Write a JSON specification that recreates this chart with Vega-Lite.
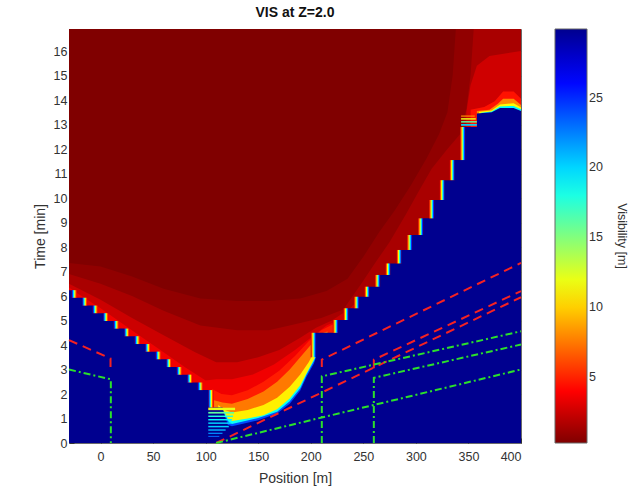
{
"$schema": "https://vega.github.io/schema/vega-lite/v6.json",
"width": 452, "height": 414,
"autosize": {"type": "none"},
"padding": {"left": 69, "top": 29, "right": 109, "bottom": 54},
"title": {"text": "VIS at Z=2.0", "fontSize": 14, "fontWeight": "bold", "color": "#111111", "anchor": "middle", "offset": 9},
"datasets": {
"cells": [
{"k":"bg","x":-30,"x2":400,"t":0,"t2":16.9,"v":0.3},
{"k":"st","x":102.5,"x2":128,"t":1.34,"t2":1.44,"v":12},
{"k":"st","x":102.5,"x2":127,"t":1.2,"t2":1.27,"v":16},
{"k":"st","x":102.5,"x2":126,"t":1.06,"t2":1.12,"v":18},
{"k":"st","x":102.5,"x2":125,"t":0.92,"t2":0.98,"v":19},
{"k":"st","x":102.5,"x2":124,"t":0.78,"t2":0.84,"v":20},
{"k":"st","x":102.5,"x2":122,"t":0.64,"t2":0.7,"v":20},
{"k":"st","x":102.5,"x2":119,"t":0.5,"t2":0.56,"v":21},
{"k":"st","x":102.5,"x2":116,"t":0.37,"t2":0.42,"v":22},
{"k":"st","x":102.5,"x2":113,"t":0.25,"t2":0.29,"v":23},
{"k":"st","x":343,"x2":358,"t":12.95,"t2":13.02,"v":20},
{"k":"st","x":343,"x2":358,"t":13.08,"t2":13.14,"v":16},
{"k":"st","x":343,"x2":357,"t":13.2,"t2":13.26,"v":12},
{"k":"st","x":343,"x2":356,"t":13.32,"t2":13.37,"v":8}
],
"strips": [
{"s":"L","x":-27.5,"x2":-22.5,"t":5.93,"t2":6.24},
{"s":"L","x":-17.5,"x2":-12.5,"t":5.61,"t2":5.93},
{"s":"L","x":-7.5,"x2":-2.5,"t":5.30,"t2":5.61},
{"s":"L","x":2.5,"x2":7.5,"t":4.98,"t2":5.30},
{"s":"L","x":12.5,"x2":17.5,"t":4.67,"t2":4.98},
{"s":"L","x":22.5,"x2":27.5,"t":4.36,"t2":4.67},
{"s":"L","x":32.5,"x2":37.5,"t":4.04,"t2":4.36},
{"s":"L","x":42.5,"x2":47.5,"t":3.73,"t2":4.04},
{"s":"L","x":52.5,"x2":57.5,"t":3.42,"t2":3.73},
{"s":"L","x":62.5,"x2":67.5,"t":3.10,"t2":3.42},
{"s":"L","x":72.5,"x2":77.5,"t":2.79,"t2":3.10},
{"s":"L","x":82.5,"x2":87.5,"t":2.47,"t2":2.79},
{"s":"L","x":92.5,"x2":97.5,"t":2.16,"t2":2.47},
{"s":"L","x":102.5,"x2":107.5,"t":1.45,"t2":2.16},
{"s":"R","x":200,"x2":205,"t":3.5,"t2":4.5},
{"s":"R","x":221,"x2":226,"t":4.5,"t2":5.02},
{"s":"R","x":231,"x2":236,"t":5.02,"t2":5.5},
{"s":"R","x":241,"x2":246,"t":5.5,"t2":5.97},
{"s":"R","x":251,"x2":256,"t":5.97,"t2":6.38},
{"s":"R","x":261,"x2":266,"t":6.38,"t2":6.86},
{"s":"R","x":271,"x2":276,"t":6.86,"t2":7.33},
{"s":"R","x":281.5,"x2":286.5,"t":7.33,"t2":7.88},
{"s":"R","x":291.5,"x2":296.5,"t":7.88,"t2":8.49},
{"s":"R","x":302,"x2":307,"t":8.49,"t2":9.17},
{"s":"R","x":312.5,"x2":317.5,"t":9.17,"t2":9.92},
{"s":"R","x":322.5,"x2":327.5,"t":9.92,"t2":10.73},
{"s":"R","x":332,"x2":337,"t":10.73,"t2":11.55},
{"s":"R","x":342,"x2":347,"t":11.55,"t2":12.9}
],
"bands": [
{"b":"R1","v":0.8,"x":-30,"t":7.35},{"b":"R1","v":0.8,"x":0,"t":7.2},{"b":"R1","v":0.8,"x":30,"t":6.8},{"b":"R1","v":0.8,"x":60,"t":6.3},{"b":"R1","v":0.8,"x":95,"t":5.9},{"b":"R1","v":0.8,"x":130,"t":5.8},{"b":"R1","v":0.8,"x":160,"t":5.8},{"b":"R1","v":0.8,"x":190,"t":5.9},{"b":"R1","v":0.8,"x":215,"t":6.2},{"b":"R1","v":0.8,"x":235,"t":6.7},{"b":"R1","v":0.8,"x":250,"t":7.6},{"b":"R1","v":0.8,"x":265,"t":8.6},{"b":"R1","v":0.8,"x":280,"t":9.5},{"b":"R1","v":0.8,"x":295,"t":10.5},{"b":"R1","v":0.8,"x":310,"t":11.6},{"b":"R1","v":0.8,"x":322,"t":12.6},{"b":"R1","v":0.8,"x":330,"t":13.5},{"b":"R1","v":0.8,"x":335,"t":15.0},{"b":"R1","v":0.8,"x":338,"t":16.9},{"b":"R1","v":0.8,"x":400,"t":16.9},
{"b":"R2","v":1.5,"x":-30,"t":6.9},{"b":"R2","v":1.5,"x":0,"t":6.5},{"b":"R2","v":1.5,"x":30,"t":6.0},{"b":"R2","v":1.5,"x":60,"t":5.4},{"b":"R2","v":1.5,"x":95,"t":4.8},{"b":"R2","v":1.5,"x":130,"t":4.6},{"b":"R2","v":1.5,"x":160,"t":4.6},{"b":"R2","v":1.5,"x":190,"t":4.9},{"b":"R2","v":1.5,"x":210,"t":5.1},{"b":"R2","v":1.5,"x":231,"t":5.45},{"b":"R2","v":1.5,"x":248,"t":6.5},{"b":"R2","v":1.5,"x":262,"t":7.4},{"b":"R2","v":1.5,"x":275,"t":8.2},{"b":"R2","v":1.5,"x":290,"t":9.3},{"b":"R2","v":1.5,"x":303,"t":10.3},{"b":"R2","v":1.5,"x":315,"t":11.2},{"b":"R2","v":1.5,"x":330,"t":12.0},{"b":"R2","v":1.5,"x":342,"t":12.6},{"b":"R2","v":1.5,"x":348,"t":13.6},{"b":"R2","v":1.5,"x":352,"t":15.0},{"b":"R2","v":1.5,"x":355,"t":16.9},{"b":"R2","v":1.5,"x":400,"t":16.9},
{"b":"R3","v":2.5,"x":-30,"t":6.5},{"b":"R3","v":2.5,"x":0,"t":5.85},{"b":"R3","v":2.5,"x":30,"t":5.1},{"b":"R3","v":2.5,"x":60,"t":4.4},{"b":"R3","v":2.5,"x":90,"t":3.7},{"b":"R3","v":2.5,"x":110,"t":3.3},{"b":"R3","v":2.5,"x":130,"t":3.3},{"b":"R3","v":2.5,"x":150,"t":3.5},{"b":"R3","v":2.5,"x":170,"t":3.8},{"b":"R3","v":2.5,"x":190,"t":4.3},{"b":"R3","v":2.5,"x":205,"t":4.7},{"b":"R3","v":2.5,"x":220,"t":5.0},{"b":"R3","v":2.5,"x":236,"t":5.45},{"b":"R3","v":2.5,"x":246,"t":5.85},{"b":"R3","v":2.5,"x":256,"t":5.95},
{"b":"R3b","v":2.6,"x":348,"t":13.5},{"b":"R3b","v":2.6,"x":352,"t":14.6},{"b":"R3b","v":2.6,"x":358,"t":15.4},{"b":"R3b","v":2.6,"x":370,"t":15.8},{"b":"R3b","v":2.6,"x":385,"t":15.9},{"b":"R3b","v":2.6,"x":400,"t":16.0},
{"b":"R4","v":3.6,"x":-30,"t":6.35},{"b":"R4","v":3.6,"x":-20,"t":6.05},{"b":"R4","v":3.6,"x":0,"t":5.5},{"b":"R4","v":3.6,"x":20,"t":4.9},{"b":"R4","v":3.6,"x":40,"t":4.3},{"b":"R4","v":3.6,"x":60,"t":3.7},{"b":"R4","v":3.6,"x":80,"t":3.1},{"b":"R4","v":3.6,"x":100,"t":2.55},{"b":"R4","v":3.6,"x":110,"t":2.6},{"b":"R4","v":3.6,"x":125,"t":2.6},{"b":"R4","v":3.6,"x":145,"t":2.8},{"b":"R4","v":3.6,"x":165,"t":3.2},{"b":"R4","v":3.6,"x":185,"t":3.8},{"b":"R4","v":3.6,"x":200,"t":4.3},{"b":"R4","v":3.6,"x":215,"t":4.8},{"b":"R4","v":3.6,"x":226,"t":5.0},
{"b":"VR","v":4.8,"x":106,"t":2.2},{"b":"VR","v":4.8,"x":115,"t":2.0},{"b":"VR","v":4.8,"x":125,"t":1.95},{"b":"VR","v":4.8,"x":140,"t":2.15},{"b":"VR","v":4.8,"x":155,"t":2.5},{"b":"VR","v":4.8,"x":170,"t":2.95},{"b":"VR","v":4.8,"x":185,"t":3.55},{"b":"VR","v":4.8,"x":198,"t":4.15},{"b":"VR","v":4.8,"x":210,"t":4.6},{"b":"VR","v":4.8,"x":226,"t":4.95},
{"b":"O","v":7.5,"x":108,"t":1.75},{"b":"O","v":7.5,"x":116,"t":1.65},{"b":"O","v":7.5,"x":125,"t":1.6},{"b":"O","v":7.5,"x":140,"t":1.8},{"b":"O","v":7.5,"x":155,"t":2.1},{"b":"O","v":7.5,"x":168,"t":2.5},{"b":"O","v":7.5,"x":180,"t":3.0},{"b":"O","v":7.5,"x":192,"t":3.6},{"b":"O","v":7.5,"x":203,"t":4.15},{"b":"O","v":7.5,"x":212,"t":4.5},{"b":"O","v":7.5,"x":216,"t":4.55},
{"b":"Y","v":11,"x":112,"t":1.55},{"b":"Y","v":11,"x":118,"t":1.35},{"b":"Y","v":11,"x":125,"t":1.25},{"b":"Y","v":11,"x":140,"t":1.35},{"b":"Y","v":11,"x":155,"t":1.55},{"b":"Y","v":11,"x":168,"t":1.85},{"b":"Y","v":11,"x":180,"t":2.3},{"b":"Y","v":11,"x":190,"t":2.8},{"b":"Y","v":11,"x":198,"t":3.3},{"b":"Y","v":11,"x":205,"t":3.85},{"b":"Y","v":11,"x":210,"t":4.4},{"b":"Y","v":11,"x":212,"t":4.5},
{"b":"C","v":18.5,"x":117,"t":1.35},{"b":"C","v":18.5,"x":121,"t":1.0},{"b":"C","v":18.5,"x":125,"t":0.9},{"b":"C","v":18.5,"x":140,"t":1.0},{"b":"C","v":18.5,"x":155,"t":1.13},{"b":"C","v":18.5,"x":168,"t":1.38},{"b":"C","v":18.5,"x":180,"t":1.82},{"b":"C","v":18.5,"x":190,"t":2.36},{"b":"C","v":18.5,"x":197,"t":2.93},{"b":"C","v":18.5,"x":204,"t":3.5},{"b":"C","v":18.5,"x":206,"t":3.7},
{"b":"LB","v":24,"x":119,"t":1.1},{"b":"LB","v":24,"x":122,"t":0.85},{"b":"LB","v":24,"x":125,"t":0.78},{"b":"LB","v":24,"x":150,"t":1.02},{"b":"LB","v":24,"x":168,"t":1.28},{"b":"LB","v":24,"x":180,"t":1.7},{"b":"LB","v":24,"x":190,"t":2.24},{"b":"LB","v":24,"x":196,"t":2.8},{"b":"LB","v":24,"x":203,"t":3.35},{"b":"LB","v":24,"x":205.5,"t":3.6},
{"b":"TRr","v":4.5,"x":352,"t":13.6},{"b":"TRr","v":4.5,"x":365,"t":13.72},{"b":"TRr","v":4.5,"x":375,"t":13.95},{"b":"TRr","v":4.5,"x":383,"t":14.35},{"b":"TRr","v":4.5,"x":393,"t":14.35},{"b":"TRr","v":4.5,"x":400,"t":14.05},
{"b":"TRo","v":8,"x":358,"t":13.55},{"b":"TRo","v":8,"x":370,"t":13.6},{"b":"TRo","v":8,"x":378,"t":13.85},{"b":"TRo","v":8,"x":383,"t":14.05},{"b":"TRo","v":8,"x":393,"t":14.05},{"b":"TRo","v":8,"x":400,"t":13.8},
{"b":"TRy","v":11.5,"x":360,"t":13.52},{"b":"TRy","v":11.5,"x":372,"t":13.57},{"b":"TRy","v":11.5,"x":380,"t":13.82},{"b":"TRy","v":11.5,"x":393,"t":13.87},{"b":"TRy","v":11.5,"x":400,"t":13.7},
{"b":"TRc","v":19,"x":362,"t":13.48},{"b":"TRc","v":19,"x":372,"t":13.53},{"b":"TRc","v":19,"x":380,"t":13.74},{"b":"TRc","v":19,"x":393,"t":13.76},{"b":"TRc","v":19,"x":400,"t":13.62},
{"b":"blue","v":29.9,"x":-30,"t":6.24},{"b":"blue","v":29.9,"x":-27.5,"t":6.24},{"b":"blue","v":29.9,"x":-27.48,"t":5.93},{"b":"blue","v":29.9,"x":-17.5,"t":5.93},{"b":"blue","v":29.9,"x":-17.48,"t":5.61},{"b":"blue","v":29.9,"x":-7.5,"t":5.61},{"b":"blue","v":29.9,"x":-7.48,"t":5.30},{"b":"blue","v":29.9,"x":2.5,"t":5.30},{"b":"blue","v":29.9,"x":2.52,"t":4.98},{"b":"blue","v":29.9,"x":12.5,"t":4.98},{"b":"blue","v":29.9,"x":12.52,"t":4.67},{"b":"blue","v":29.9,"x":22.5,"t":4.67},{"b":"blue","v":29.9,"x":22.52,"t":4.36},{"b":"blue","v":29.9,"x":32.5,"t":4.36},{"b":"blue","v":29.9,"x":32.52,"t":4.04},{"b":"blue","v":29.9,"x":42.5,"t":4.04},{"b":"blue","v":29.9,"x":42.52,"t":3.73},{"b":"blue","v":29.9,"x":52.5,"t":3.73},{"b":"blue","v":29.9,"x":52.52,"t":3.42},{"b":"blue","v":29.9,"x":62.5,"t":3.42},{"b":"blue","v":29.9,"x":62.52,"t":3.10},{"b":"blue","v":29.9,"x":72.5,"t":3.10},{"b":"blue","v":29.9,"x":72.52,"t":2.79},{"b":"blue","v":29.9,"x":82.5,"t":2.79},{"b":"blue","v":29.9,"x":82.52,"t":2.47},{"b":"blue","v":29.9,"x":92.5,"t":2.47},{"b":"blue","v":29.9,"x":92.52,"t":2.16},{"b":"blue","v":29.9,"x":102.5,"t":2.16},{"b":"blue","v":29.9,"x":102.52,"t":1.45},{"b":"blue","v":29.9,"x":116,"t":1.45},{"b":"blue","v":29.9,"x":121,"t":0.75},{"b":"blue","v":29.9,"x":125,"t":0.68},{"b":"blue","v":29.9,"x":150,"t":0.93},{"b":"blue","v":29.9,"x":168,"t":1.2},{"b":"blue","v":29.9,"x":180,"t":1.6},{"b":"blue","v":29.9,"x":190,"t":2.14},{"b":"blue","v":29.9,"x":196,"t":2.7},{"b":"blue","v":29.9,"x":203,"t":3.25},{"b":"blue","v":29.9,"x":205,"t":3.5},{"b":"blue","v":29.9,"x":205.02,"t":4.5},{"b":"blue","v":29.9,"x":226,"t":4.5},{"b":"blue","v":29.9,"x":226.02,"t":5.02},{"b":"blue","v":29.9,"x":236,"t":5.02},{"b":"blue","v":29.9,"x":236.02,"t":5.5},{"b":"blue","v":29.9,"x":246,"t":5.5},{"b":"blue","v":29.9,"x":246.02,"t":5.97},{"b":"blue","v":29.9,"x":256,"t":5.97},{"b":"blue","v":29.9,"x":256.02,"t":6.38},{"b":"blue","v":29.9,"x":266,"t":6.38},{"b":"blue","v":29.9,"x":266.02,"t":6.86},{"b":"blue","v":29.9,"x":276,"t":6.86},{"b":"blue","v":29.9,"x":276.02,"t":7.33},{"b":"blue","v":29.9,"x":286.5,"t":7.33},{"b":"blue","v":29.9,"x":286.52,"t":7.88},{"b":"blue","v":29.9,"x":296.5,"t":7.88},{"b":"blue","v":29.9,"x":296.52,"t":8.49},{"b":"blue","v":29.9,"x":307,"t":8.49},{"b":"blue","v":29.9,"x":307.02,"t":9.17},{"b":"blue","v":29.9,"x":317.5,"t":9.17},{"b":"blue","v":29.9,"x":317.52,"t":9.92},{"b":"blue","v":29.9,"x":327.5,"t":9.92},{"b":"blue","v":29.9,"x":327.52,"t":10.73},{"b":"blue","v":29.9,"x":337,"t":10.73},{"b":"blue","v":29.9,"x":337.02,"t":11.55},{"b":"blue","v":29.9,"x":347,"t":11.55},{"b":"blue","v":29.9,"x":347.02,"t":12.9},{"b":"blue","v":29.9,"x":358,"t":12.9},{"b":"blue","v":29.9,"x":358.02,"t":13.45},{"b":"blue","v":29.9,"x":372,"t":13.5},{"b":"blue","v":29.9,"x":380,"t":13.68},{"b":"blue","v":29.9,"x":393,"t":13.68},{"b":"blue","v":29.9,"x":400,"t":13.55}
],
"lines": [
{"id":"Ra","c":"r","i":1,"x":-30,"t":4.2},{"id":"Ra","c":"r","i":2,"x":9.5,"t":3.45},{"id":"Ra","c":"r","i":3,"x":9.5,"t":3.1},
{"id":"Rb","c":"r","i":1,"x":110,"t":0},{"id":"Rb","c":"r","i":2,"x":400,"t":5.95},
{"id":"Rc","c":"r","i":1,"x":210.5,"t":3.1},{"id":"Rc","c":"r","i":2,"x":210.5,"t":3.4},{"id":"Rc","c":"r","i":3,"x":400,"t":7.35},
{"id":"Rd","c":"r","i":1,"x":260,"t":3.05},{"id":"Rd","c":"r","i":2,"x":260,"t":3.4},{"id":"Rd","c":"r","i":3,"x":400,"t":6.2},
{"id":"Ga","c":"g","i":1,"x":-30,"t":3.0},{"id":"Ga","c":"g","i":2,"x":9.8,"t":2.6},{"id":"Ga","c":"g","i":3,"x":9.8,"t":0},
{"id":"Gb","c":"g","i":1,"x":110,"t":0},{"id":"Gb","c":"g","i":2,"x":400,"t":3.0},
{"id":"Gc","c":"g","i":1,"x":210.5,"t":0},{"id":"Gc","c":"g","i":2,"x":210.5,"t":2.72},{"id":"Gc","c":"g","i":3,"x":400,"t":4.56},
{"id":"Gd","c":"g","i":1,"x":260,"t":0},{"id":"Gd","c":"g","i":2,"x":260,"t":2.66},{"id":"Gd","c":"g","i":3,"x":400,"t":4.02}
]
},
"encoding": {
"x": {"field": "x", "type": "quantitative", "scale": {"domain": [-30, 400], "nice": false, "zero": false},
  "axis": {"title": "Position [m]", "values": [0,50,100,150,200,250,300,350,400], "labelPadding": 12, "titlePadding": 9}},
"y": {"field": "t", "type": "quantitative", "stack": null, "scale": {"domain": [0, 16.9], "nice": false, "zero": false},
  "axis": {"title": "Time [min]", "values": [0,1,2,3,4,5,6,7,8,9,10,11,12,13,14,15,16], "labelPadding": 7, "titlePadding": 6}}
},
"layer": [
{"data": {"name": "cells"}, "transform": [{"filter": "datum.k==='bg'"}], "mark": "rect",
 "encoding": {"x2": {"field": "x2"}, "y2": {"field": "t2"},
  "color": {"field": "v", "type": "quantitative", "scale": {"domain": [0.3,4,11.4,18.8,26.2,29.9], "range": ["#800000","#ff0000","#ffff00","#00ffff","#0000ff","#00008f"], "interpolate": "rgb"}, "legend": {"title": "Visibility [m]", "values": [5,10,15,20,25]}}}},
{"data": {"name": "bands"}, "transform": [{"filter": "datum.b==='R1'"}], "mark": "area", "encoding": {"color": {"field": "v", "type": "quantitative"}}},
{"data": {"name": "bands"}, "transform": [{"filter": "datum.b==='R2'"}], "mark": "area", "encoding": {"color": {"field": "v", "type": "quantitative"}}},
{"data": {"name": "bands"}, "transform": [{"filter": "datum.b==='R3'"}], "mark": "area", "encoding": {"color": {"field": "v", "type": "quantitative"}}},
{"data": {"name": "bands"}, "transform": [{"filter": "datum.b==='R3b'"}], "mark": "area", "encoding": {"color": {"field": "v", "type": "quantitative"}}},
{"data": {"name": "bands"}, "transform": [{"filter": "datum.b==='R4'"}], "mark": "area", "encoding": {"color": {"field": "v", "type": "quantitative"}}},
{"data": {"name": "bands"}, "transform": [{"filter": "datum.b==='VR'"}], "mark": "area", "encoding": {"color": {"field": "v", "type": "quantitative"}}},
{"data": {"name": "bands"}, "transform": [{"filter": "datum.b==='O'"}], "mark": "area", "encoding": {"color": {"field": "v", "type": "quantitative"}}},
{"data": {"name": "bands"}, "transform": [{"filter": "datum.b==='Y'"}], "mark": "area", "encoding": {"color": {"field": "v", "type": "quantitative"}}},
{"data": {"name": "bands"}, "transform": [{"filter": "datum.b==='C'"}], "mark": "area", "encoding": {"color": {"field": "v", "type": "quantitative"}}},
{"data": {"name": "bands"}, "transform": [{"filter": "datum.b==='LB'"}], "mark": "area", "encoding": {"color": {"field": "v", "type": "quantitative"}}},
{"data": {"name": "bands"}, "transform": [{"filter": "datum.b==='TRr'"}], "mark": "area", "encoding": {"color": {"field": "v", "type": "quantitative"}}},
{"data": {"name": "bands"}, "transform": [{"filter": "datum.b==='TRo'"}], "mark": "area", "encoding": {"color": {"field": "v", "type": "quantitative"}}},
{"data": {"name": "bands"}, "transform": [{"filter": "datum.b==='TRy'"}], "mark": "area", "encoding": {"color": {"field": "v", "type": "quantitative"}}},
{"data": {"name": "bands"}, "transform": [{"filter": "datum.b==='TRc'"}], "mark": "area", "encoding": {"color": {"field": "v", "type": "quantitative"}}},
{"data": {"name": "bands"}, "transform": [{"filter": "datum.b==='blue'"}], "mark": "area", "encoding": {"color": {"field": "v", "type": "quantitative"}}},
{"data": {"name": "strips"}, "transform": [{"filter": "datum.s==='L'"}],
 "mark": {"type": "rect", "fill": {"gradient": "linear", "x1": 0, "y1": 0, "x2": 1, "y2": 0, "stops": [{"offset": 0, "color": "#00008f"}, {"offset": 0.15, "color": "#0030ff"}, {"offset": 0.38, "color": "#00ffff"}, {"offset": 0.6, "color": "#ffff00"}, {"offset": 0.8, "color": "#ff5000"}, {"offset": 1, "color": "#e80000"}]}},
 "encoding": {"x2": {"field": "x2"}, "y2": {"field": "t2"}}},
{"data": {"name": "strips"}, "transform": [{"filter": "datum.s==='R'"}],
 "mark": {"type": "rect", "fill": {"gradient": "linear", "x1": 1, "y1": 0, "x2": 0, "y2": 0, "stops": [{"offset": 0, "color": "#00008f"}, {"offset": 0.15, "color": "#0030ff"}, {"offset": 0.38, "color": "#00ffff"}, {"offset": 0.6, "color": "#ffff00"}, {"offset": 0.8, "color": "#ff5000"}, {"offset": 1, "color": "#c80000"}]}},
 "encoding": {"x2": {"field": "x2"}, "y2": {"field": "t2"}}},
{"data": {"name": "cells"}, "transform": [{"filter": "datum.k==='st'"}], "mark": "rect",
 "encoding": {"x2": {"field": "x2"}, "y2": {"field": "t2"}, "color": {"field": "v", "type": "quantitative"}}},
{"data": {"name": "lines"}, "transform": [{"filter": "datum.c==='r'"}],
 "mark": {"type": "line", "color": "#f52222", "strokeWidth": 2, "strokeDash": [9, 6]},
 "encoding": {"detail": {"field": "id"}, "order": {"field": "i", "type": "quantitative"}}},
{"data": {"name": "lines"}, "transform": [{"filter": "datum.c==='g'"}],
 "mark": {"type": "line", "color": "#2be02b", "strokeWidth": 2, "strokeDash": [7, 3, 2, 3]},
 "encoding": {"detail": {"field": "id"}, "order": {"field": "i", "type": "quantitative"}}}
],
"config": {
 "font": "Liberation Sans",
 "view": {"stroke": "#777777", "strokeWidth": 1},
 "axis": {"labelFontSize": 12.5, "labelColor": "#333333", "titleFontSize": 14, "titleFontWeight": "normal", "titleColor": "#333333", "grid": true, "gridColor": "#000000", "gridOpacity": 0.18, "gridWidth": 0.6, "domain": false, "ticks": true, "tickSize": -5, "tickColor": "#333333", "zindex": 1},
 "legend": {"gradientLength": 414, "gradientThickness": 32, "offset": 30, "labelFontSize": 12.5, "labelColor": "#333333", "labelOffset": 5, "titleFontSize": 12.5, "titleFontWeight": "normal", "titleColor": "#333333", "titleOrient": "right", "titleAngle": 270, "titleAnchor": "middle", "titlePadding": 12, "gradientStrokeColor": "#666666", "gradientStrokeWidth": 1}
}
}
